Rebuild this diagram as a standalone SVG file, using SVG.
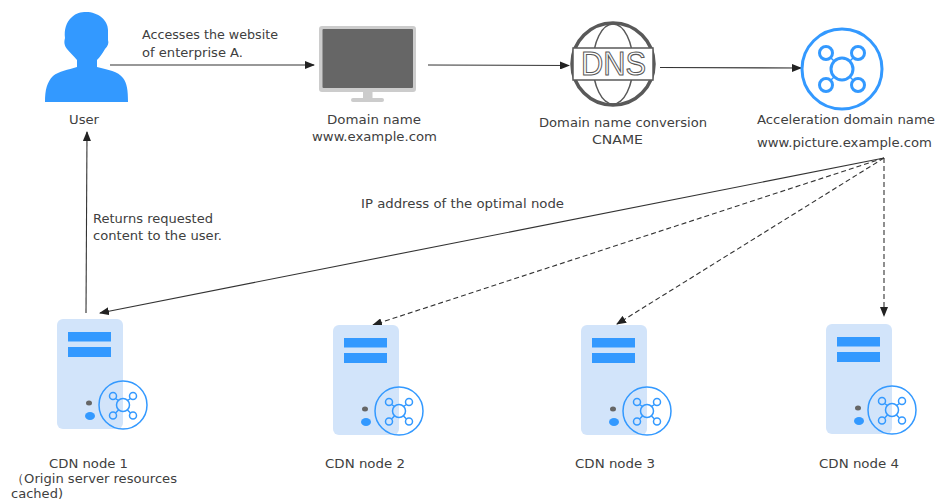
<svg xmlns="http://www.w3.org/2000/svg" xmlns:xlink="http://www.w3.org/1999/xlink" width="936" height="500" viewBox="0 0 936 500">
<style>
text{font-family:"DejaVu Sans",sans-serif;font-size:13px;fill:#404040}
.l{fill:none;stroke:#333;stroke-width:1.1}
.d{stroke-dasharray:5 3}
.b{fill:none;stroke:#3399ff}
</style>
<defs>
<marker id="a" markerWidth="10" markerHeight="8" refX="9" refY="4" orient="auto" markerUnits="userSpaceOnUse"><path d="M0 0L10 4L0 8z" fill="#222"/></marker>
<symbol id="srv" overflow="visible">
<rect x="0" y="0" width="66" height="110" rx="6" fill="#d2e4fa"/>
<rect x="11" y="13" width="43" height="9.500" fill="#3399ff"/>
<rect x="11" y="28" width="43" height="10" fill="#3399ff"/>
<ellipse cx="32" cy="84" rx="3" ry="2.500" fill="#666"/>
<ellipse cx="33" cy="97" rx="5" ry="4" fill="#3399ff"/>
<path d="M66 62A24 24 0 0 1 66 110z" fill="#fff"/>
<g class="b" stroke-width="1.500">
<circle cx="66" cy="86" r="24"/>
<circle cx="66" cy="86" r="6.500"/>
<circle cx="56" cy="77" r="3.500"/><circle cx="76" cy="77" r="3.500"/>
<circle cx="56" cy="96.500" r="3.500"/><circle cx="76" cy="96.500" r="3.500"/>
<path d="M58.500 79.500L61.500 81.500M73.500 79.500L70.500 81.500M58.500 94L61.500 91M73.500 94L70.500 91"/>
</g>
</symbol>
</defs>
<g id="connectors">
<path class="l" marker-end="url(#a)" d="M110 65L314 65"/>
<path class="l" marker-end="url(#a)" d="M428 65L569 65.500"/>
<path class="l" marker-end="url(#a)" d="M660 67.500L801 68"/>
<path class="l" marker-end="url(#a)" d="M86 313L87 132"/>
<path class="l" marker-end="url(#a)" d="M884 158L100 313"/>
<path class="l d" marker-end="url(#a)" d="M884 158L373 325"/>
<path class="l d" marker-end="url(#a)" d="M884 158L617 324"/>
<path class="l d" marker-end="url(#a)" d="M884 158L884 316"/>
</g>
<g id="user">
<path fill="#3399ff" d="M86 12C98 12 108 20 108 30L108 40C109 43 108 46 105 49C102 54 100 57 97 60L97 67C108 70 118 71 123 78C127 83 128 90 128 102L45 102C45 90 47 82 53 76C59 71 68 70 77 67L77 60C74 56 70 53 67 49C64 45 64 42 65 38C64 30 66 22 72 17C76 13 81 12 86 12z"/>
<text x="69" y="124" textLength="30" lengthAdjust="spacingAndGlyphs">User</text>
</g>
<g id="monitor">
<rect x="319" y="26" width="97" height="66" rx="3" fill="#ccc"/>
<rect x="322.500" y="29" width="90.500" height="59" rx="1" fill="#666"/>
<rect x="363" y="92" width="9.500" height="7" fill="#ccc"/>
<rect x="351" y="98" width="33" height="4" rx="2" fill="#ccc"/>
<text x="327" y="124" textLength="94" lengthAdjust="spacingAndGlyphs">Domain name</text>
<text x="312" y="141" textLength="125" lengthAdjust="spacingAndGlyphs">www.example.com</text>
</g>
<g id="dns">
<g fill="none" stroke="#595959">
<circle cx="613" cy="64" r="41" stroke-width="3.500"/>
<ellipse cx="613" cy="64" rx="20" ry="40" stroke-width="1.500"/>
</g>
<rect x="573" y="48" width="80" height="32" fill="#fff" stroke="#595959" stroke-width="1.500"/>
<text x="581" y="75" style="font-family:'Liberation Sans',sans-serif;font-size:34px;fill:#fff;stroke:#595959;stroke-width:1.100" textLength="65" lengthAdjust="spacingAndGlyphs">DNS</text>
<text x="539" y="127" textLength="168" lengthAdjust="spacingAndGlyphs">Domain name conversion</text>
<text x="592" y="144" textLength="51" lengthAdjust="spacingAndGlyphs">CNAME</text>
</g>
<g id="acceleration">
<g class="b" stroke-width="3">
<circle cx="842" cy="69" r="40"/>
<circle cx="842" cy="69" r="11"/>
<circle cx="826" cy="53" r="6.500"/><circle cx="858" cy="53" r="6.500"/>
<circle cx="826" cy="85" r="6.500"/><circle cx="858" cy="85" r="6.500"/>
<path d="M831 58L834 61M853 58L850 61M831 80L834 77M853 80L850 77" stroke-width="1.500"/>
</g>
<text x="757" y="124" textLength="178" lengthAdjust="spacingAndGlyphs">Acceleration domain name</text>
<text x="757" y="147" textLength="175" lengthAdjust="spacingAndGlyphs">www.picture.example.com</text>
</g>
<g id="labels">
<text x="142" y="39" textLength="136" lengthAdjust="spacingAndGlyphs">Accesses the website</text>
<text x="142" y="57" textLength="101" lengthAdjust="spacingAndGlyphs">of enterprise A.</text>
<text x="93" y="223" textLength="120" lengthAdjust="spacingAndGlyphs">Returns requested</text>
<text x="93" y="240" textLength="129" lengthAdjust="spacingAndGlyphs">content to the user.</text>
<text x="361" y="208" textLength="203" lengthAdjust="spacingAndGlyphs">IP address of the optimal node</text>
</g>
<g id="cdn1">
<use href="#srv" x="57" y="319"/>
<text x="49" y="468" textLength="79" lengthAdjust="spacingAndGlyphs">CDN node 1</text>
<text x="11" y="483" textLength="166" lengthAdjust="spacingAndGlyphs">（Origin server resources</text>
<text x="11" y="498" textLength="52" lengthAdjust="spacingAndGlyphs">cached)</text>
</g>
<g id="cdn2">
<use href="#srv" x="333" y="325"/>
<text x="325" y="468" textLength="80" lengthAdjust="spacingAndGlyphs">CDN node 2</text>
</g>
<g id="cdn3">
<use href="#srv" x="581" y="325"/>
<text x="575" y="468" textLength="80" lengthAdjust="spacingAndGlyphs">CDN node 3</text>
</g>
<g id="cdn4">
<use href="#srv" x="826" y="324"/>
<text x="819" y="468" textLength="80" lengthAdjust="spacingAndGlyphs">CDN node 4</text>
</g>
</svg>
